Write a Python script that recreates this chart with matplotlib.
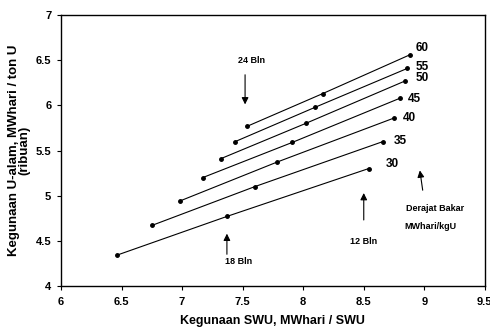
import matplotlib
matplotlib.use('Agg')
import matplotlib.pyplot as plt

plt.rcParams['font.family'] = ['Liberation Sans Narrow', 'Liberation Sans', 'DejaVu Sans']
plt.rcParams['font.weight'] = 'bold'
plt.rcParams['axes.labelweight'] = 'bold'

# derajat bakar (MWhari/kgU) -> titik (SWU, U-alam) pada 24, 18, 12 bulan
labels = ['30', '35', '40', '45', '50', '55', '60']
swu = [
    [6.46, 7.37, 8.54],
    [6.75, 7.60, 8.66],
    [6.98, 7.78, 8.75],
    [7.17, 7.91, 8.80],
    [7.32, 8.02, 8.84],
    [7.44, 8.10, 8.86],
    [7.54, 8.16, 8.88],
]
ualam = [
    [4.34, 4.77, 5.30],
    [4.67, 5.10, 5.60],
    [4.94, 5.37, 5.86],
    [5.20, 5.59, 6.08],
    [5.41, 5.80, 6.27],
    [5.60, 5.98, 6.41],
    [5.77, 6.13, 6.56],
]
# posisi label derajat bakar
label_x = [8.74, 8.80, 8.88, 8.92, 8.98, 8.98, 8.98]
label_y = [5.35, 5.61, 5.86, 6.07, 6.30, 6.43, 6.64]
xticks = [6, 6.5, 7, 7.5, 8, 8.5, 9, 9.5]
yticks = [4, 4.5, 5, 5.5, 6, 6.5, 7]

fig = plt.figure(figsize=(4.9, 3.36), dpi=100)
ax = fig.add_axes([0.1245, 0.149, 0.865, 0.806])

for lab, xs, ys, lx, ly in zip(labels, swu, ualam, label_x, label_y):
    ax.plot(xs, ys, color='black', lw=0.8, marker='o', ms=2.5)
    ax.text(lx, ly, lab, fontsize=8.5, va='center', ha='center')

arr = dict(arrowstyle='-|>', color='black', lw=0.8, mutation_scale=10)
ax.annotate('', xy=(7.52, 5.98), xytext=(7.52, 6.37), arrowprops=arr)
ax.text(7.57, 6.50, '24 Bln', fontsize=6.5, ha='center', va='center')
ax.annotate('', xy=(7.37, 4.61), xytext=(7.37, 4.32), arrowprops=arr)
ax.text(7.47, 4.27, '18 Bln', fontsize=6.5, ha='center', va='center')
ax.annotate('', xy=(8.5, 5.06), xytext=(8.5, 4.70), arrowprops=arr)
ax.text(8.5, 4.49, '12 Bln', fontsize=6.5, ha='center', va='center')
ax.annotate('', xy=(8.96, 5.31), xytext=(8.99, 5.03), arrowprops=arr)
ax.text(9.09, 4.86, 'Derajat Bakar', fontsize=6.5, ha='center', va='center')
ax.text(9.05, 4.66, 'MWhari/kgU', fontsize=6.5, ha='center', va='center')

ax.set_xlim(6, 9.5)
ax.set_ylim(4, 7)
ax.set_xticks(xticks)
ax.set_xticklabels([f'{t:g}' for t in xticks])
ax.set_yticks(yticks)
ax.set_yticklabels([f'{t:g}' for t in yticks])
ax.tick_params(direction='out', length=3, width=0.8, labelsize=8)
ax.tick_params(axis='x', pad=5)
ax.tick_params(axis='y', pad=4)
for s in ax.spines.values():
    s.set_linewidth(1.0)

ax.set_xlabel('Kegunaan SWU, MWhari / SWU', fontsize=9, labelpad=6)
ax.set_ylabel('Kegunaan U-alam, MWhari / ton U\n(ribuan)', fontsize=9.5, linespacing=0.85)
ax.yaxis.set_label_coords(-0.072, 0.5)

plt.savefig('out.png', dpi=100)
